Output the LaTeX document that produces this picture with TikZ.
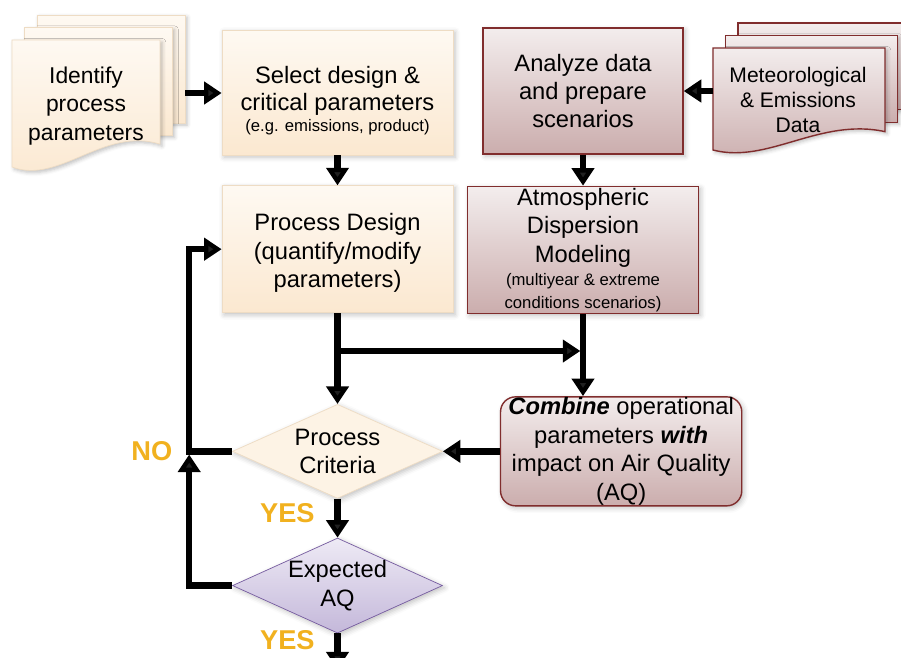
\documentclass[tikz,border=0pt]{standalone}
\usepackage{fontspec}
\setmainfont{Liberation Sans}
\usetikzlibrary{shapes.geometric, arrows.meta, positioning, calc, shadows.blur}

\definecolor{creamtop}{RGB}{254,249,242}
\definecolor{creambot}{RGB}{251,232,208}
\definecolor{creamline}{RGB}{238,220,196}
\definecolor{rosetop}{RGB}{243,237,237}
\definecolor{rosebot}{RGB}{203,173,173}
\definecolor{roseline}{RGB}{128,45,45}
\definecolor{lilactop}{RGB}{238,234,245}
\definecolor{lilacbot}{RGB}{196,184,218}
\definecolor{lilacline}{RGB}{118,92,160}
\definecolor{critfill}{RGB}{253,243,229}
\definecolor{gold}{RGB}{241,177,31}

\newcommand{\smallnote}{\fontsize{9.5}{11}\selectfont}
% three stacked sheets: left, top, width, height, style
\newcommand{\pagestack}[5]{%
  \foreach \k in {2,1}{%
    \draw[#5] ({#1+12.5*\k},{#2+12.5*\k}) rectangle ++(#3,{-0.85*#4});
  }
  \draw[#5] (#1,#2) -- ++(#3,0) -- ++(0,{-0.82*#4})
    .. controls ({#1+0.62*#3},{#2-0.68*#4}) and ({#1+0.32*#3},{#2-1.14*#4}) .. (#1,{#2-#4}) -- cycle;
}

\tikzstyle{softshadow} = [blur shadow={shadow xshift=1.2pt, shadow yshift=-1.2pt, shadow opacity=25, shadow blur steps=4}]
\tikzstyle{task} = [rectangle, minimum width=4.62cm, minimum height=2.5cm, align=center, top color=creamtop, bottom color=creambot, draw=creamline, softshadow, node font=\fontsize{13.5}{16.2}\selectfont]
\tikzstyle{model} = [rectangle, minimum width=4.62cm, minimum height=2.54cm, align=center, top color=rosetop, bottom color=rosebot, draw=roseline, thick, softshadow, node font=\fontsize{13.5}{16.2}\selectfont]
\tikzstyle{decision} = [diamond, aspect=2.2, inner sep=0pt, minimum width=4.2cm, minimum height=1.88cm, align=center, node font=\fontsize{13.5}{16.2}\selectfont]
\tikzstyle{sheet} = [softshadow]
\tikzstyle{doctext} = [align=center]
\tikzstyle{answer} = [text=gold, node font=\bfseries\fontsize{15.5}{16}\selectfont]
\tikzstyle{arrow} = [line width=3.6pt, -{Triangle[width=12.5pt,length=10pt]}]

\begin{document}
\begin{tikzpicture}[x=0.02cm, y=0.02cm]
    \useasboundingbox (0,0) rectangle (901,-657);
    \clip (0,0) rectangle (901,-657);

    % paper stacks
    \pagestack{12}{-40}{148}{127}{sheet, top color=creamtop, bottom color=creambot, draw=creamline}
    \pagestack{713}{-48}{172}{102}{sheet, top color=rosetop, bottom color=rosebot, draw=roseline, thick}
    \node[doctext, node font=\fontsize{13}{16}\selectfont] (identify) at (86,-106) {Identify\\process\\parameters};
    \node[doctext, node font=\fontsize{12}{14.2}\selectfont] (meteo) at (798,-100) {Meteorological\\\& Emissions\\Data};
    \coordinate (idright) at (185,-93);
    \coordinate (metleft) at (713,-91);

    \node[task] (select) at (337.5,-92.5) {\rule{0pt}{19pt}Select design \&\\[-1pt]critical parameters\\[-4pt]{\smallnote (e.g. emissions, product)}};
    \node[task, minimum height=2.54cm, below=0.6cm of select] (design) {\rule{0pt}{14pt}Process Design\\(quantify/modify\\parameters)};
    \node[model, minimum width=4cm, minimum height=2.52cm] (analyze) at (583,-91) {Analyze data\\and prepare\\scenarios};
    \node[model, below=0.62cm of analyze, inner ysep=0pt] (atmos) {Atmospheric\\Dispersion\\Modeling\\[-3pt]{\smallnote (multiyear \& extreme}\\[-3pt]{\smallnote conditions scenarios)}};
    \node[decision, fill=critfill, draw=creamline, softshadow, below=1.82cm of design] (crit) {Process\\Criteria};
    \node[decision, top color=lilactop, bottom color=lilacbot, draw=lilacline, softshadow, below=0.78cm of crit] (expect) {Expected\\AQ};
    \node[model, rounded corners=0.3cm, minimum width=4.8cm, minimum height=2.18cm, inner ysep=-3pt, right=1.14cm of crit] (combine) {\textbf{\textit{Combine}} operational\\parameters \textbf{\textit{with}}\\impact on Air Quality\\(AQ)};

    \coordinate[below=0.76cm of design.south] (split);
    \coordinate[left=0.86cm of crit.west] (noturn);
    \coordinate[below=0.72cm of expect.south] (next);

    \node[answer, left=0.15cm of noturn] (no) {NO};
    \node[answer, below left=-0.1cm and 0.27cm of crit.south] (yes1) {YES};
    \node[answer, below left=-0.24cm and 0.27cm of expect.south] (yes2) {YES};

    \draw[arrow] (idright) -- (select.west |- idright);
    \draw[arrow] (select) -- (design);
    \draw[arrow] (metleft) -- (analyze.east |- metleft);
    \draw[arrow] (analyze) -- (atmos);
    \draw[arrow] (design) -- (crit);
    \draw[arrow, shorten >=1.5pt] (split) -- (split -| atmos.south);
    \draw[arrow] (atmos.south) -- (atmos.south |- combine.north);
    \draw[arrow] (combine) -- (crit);
    \draw[arrow] (crit) -- (expect);
    \draw[arrow] (crit.west) -- (noturn) |- (design.west);
    \draw[arrow, shorten >=1.8pt] (expect.west) -| (noturn);
    \draw[arrow] (expect) -- (next);
\end{tikzpicture}
\end{document}
